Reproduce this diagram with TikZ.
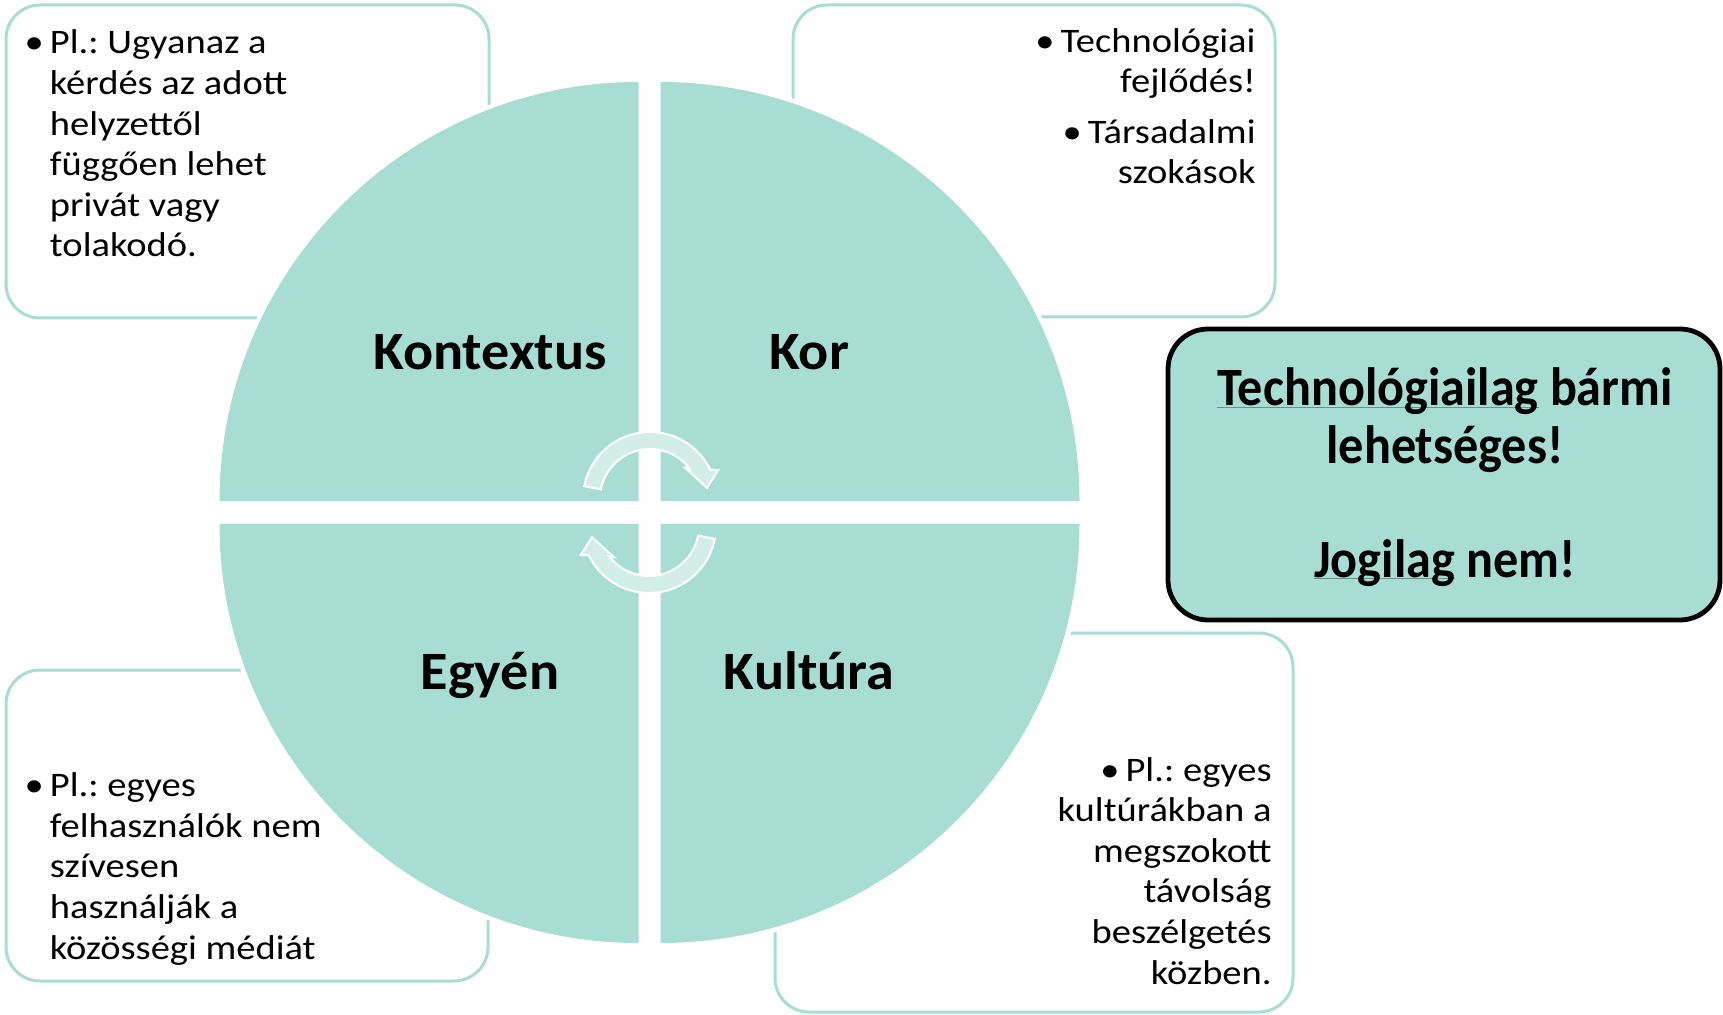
\documentclass[tikz,border=0pt]{standalone}
\usepackage{fontspec}
\setmainfont{Carlito}
\newfontfamily\notefont{Carlito}[FakeStretch=1.12]
\newfontfamily\labelfont{Carlito}[FakeStretch=1.04]
\newfontfamily\keyfont{Carlito}[FakeStretch=0.93]
\usetikzlibrary{calc}
\frenchspacing

\definecolor{mint}{HTML}{A7DDD3}
\definecolor{mintpale}{HTML}{D3EEE9}
\definecolor{ulgray}{HTML}{6E8F8A}

% thin grey underline, like a link
\newlength\ulwd
\newcommand\linkul[1]{\settowidth\ulwd{#1}\rlap{\textcolor{ulgray}{\rule[-1.2pt]{\ulwd}{0.6pt}}}#1}

\tikzset{
  notebox/.style={draw=mint, line width=1.5pt, fill=white, rounded corners=17pt},
  quad/.style={fill=mint},
  cyclearrow/.style={fill=mintpale, draw=white, line width=1pt, line join=miter},
  qlabel/.style={font=\labelfont\fontsize{27}{30}\selectfont\bfseries, inner sep=0pt, anchor=base},
  notetext/.style={font=\notefont\fontsize{17.2}{20.3}\selectfont, inner sep=0pt},
  keybox/.style={draw=black, line width=2.4pt, fill=mint, rounded corners=20pt},
}

\begin{document}
\begin{tikzpicture}[x=0.5pt, y=-0.5pt]
\useasboundingbox (0,0) rectangle (1723,1015);

% note boxes (behind the circle)
\draw[notebox] (6,5) rectangle (489,318);
\draw[notebox] (793,5) rectangle (1275,317);
\draw[notebox] (6,670) rectangle (488,981);
\draw[notebox] (775,633) rectangle (1293,1012);

% the four quadrants
\coordinate (c) at (649.5,512.5);
\fill[white] (c) circle[radius=438];
\foreach \sx/\sy/\a in {-1/-1/180, 1/-1/270, 1/1/0, -1/1/90}
  \fill[quad] ($(c)+(\sx*11,\sy*11.5)$) -- ++(\a:419) arc[start angle=\a, delta angle=90, radius=419] -- cycle;

% cycle arrows in the middle
\coordinate (ta) at (650,499);
\coordinate (ba) at (649,526);
\foreach \cc/\r in {ta/0, ba/180}
  \filldraw[cyclearrow] ($(\cc)+(191+\r:67)$) arc[start angle=191+\r, end angle=334+\r, radius=67]
    -- ($(\cc)+(337+\r:74)$) -- ($(\cc)+(349+\r:58)$) -- ($(\cc)+(318.5+\r:47)$)
    -- ($(\cc)+(322.5+\r:50)$) arc[start angle=322.5+\r, end angle=191+\r, radius=50] -- cycle;

% quadrant labels
\node[qlabel] (kontextus) at (490,370) {Kontextus};
\node[qlabel] (kor) at (809,370) {Kor};
\node[qlabel] (egyen) at (490,689) {Egyén};
\node[qlabel] (kultura) at (809,689) {Kultúra};

% notes (base = last line)
\node[notetext, align=left, anchor=base west] (ctxnote) at (49.5,257)
  {\llap{•\hspace{3pt}}Pl.: Ugyanaz a\\kérdés az adott\\helyzettől\\függően lehet\\privát vagy\\tolakodó.};
\node[notetext, align=right, anchor=base east] (kornote) at (1256,184)
  {•\hspace{3pt}Technológiai\\fejlődés!\\[5pt]•\hspace{3pt}Társadalmi\\szokások};
\node[notetext, align=left, anchor=base west] (egyennote) at (49.5,959)
  {\llap{•\hspace{3pt}}Pl.: egyes\\felhasználók nem\\szívesen\\használják a\\közösségi médiát};
\node[notetext, align=right, anchor=base east] (kulturanote) at (1272,984)
  {•\hspace{3pt}Pl.: egyes\\kultúrákban a\\megszokott\\távolság\\beszélgetés\\közben.};

% key message
\draw[keybox] (1168,329) rectangle (1720,620);
\node[font=\keyfont\fontsize{27}{28.5}\selectfont\bfseries, align=center, anchor=base, inner sep=0pt] (keytext) at (1445,577)
  {\linkul{Technológiailag} bármi\\lehetséges!\\[28.5pt]\linkul{Jogilag} nem!};
\end{tikzpicture}
\end{document}
